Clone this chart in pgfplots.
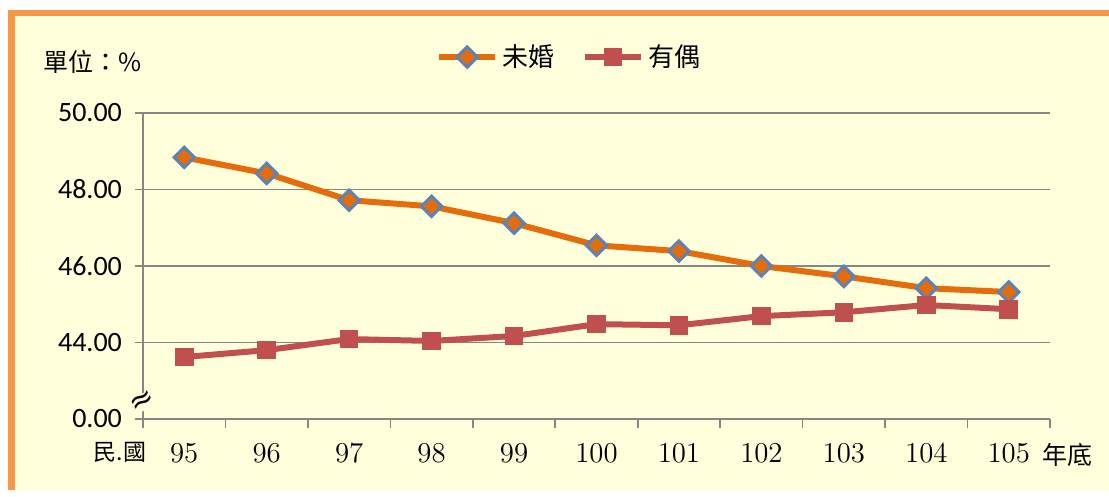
\documentclass[border=0pt]{standalone}
\usepackage{fontspec}
\setmainfont{Liberation Serif}
\newfontfamily\cjk{Noto Sans CJK TC}
\newfontfamily\calib{Carlito}
\newfontfamily\dejavu{DejaVu Sans}
\usepackage{pgfplots}
\pgfplotsset{compat=1.18}
\definecolor{cream}{HTML}{FFFFDC}
\definecolor{borderor}{HTML}{F79646}
\definecolor{ax}{HTML}{868686}
\definecolor{unm}{HTML}{E46C0A}
\definecolor{dia}{HTML}{5B83B5}
\definecolor{mar}{HTML}{C0504D}
\begin{document}
\begin{tikzpicture}[x=1pt,y=1pt]
\useasboundingbox (0pt,0pt) rectangle (554.5pt,248.5pt);
\fill[white] (0pt,0pt) rectangle (554.5pt,248.5pt);
\fill[cream] (4pt,3.5pt) rectangle (554.5pt,243.5pt);
\fill[borderor] (4pt,3.5pt) rectangle (7.5pt,243.5pt);
\fill[borderor] (4pt,240.5pt) rectangle (554.5pt,243.5pt);
\begin{axis}[
  at={(71.5pt,39pt)}, anchor=south west, scale only axis,
  width=453.5pt, height=153pt,
  xmin=94.5, xmax=105.5, ymin=42, ymax=50,
  clip=false,
  axis x line*=bottom, axis y line*=left,
  axis line style={ax, line width=0.8pt},
  xtick={95,96,97,98,99,100,101,102,103,104,105},
  major x tick style={draw=none},
  minor xtick={94.5,95.5,96.5,97.5,98.5,99.5,100.5,101.5,102.5,103.5,104.5,105.5},
  minor x tick style={ax, line width=0.8pt},
  minor tick length=4.5pt,
  major tick length=4pt,
  tick align=outside,
  ytick={42,44,46,48,50},
  yticklabels={0.00,44.00,46.00,48.00,50.00},
  ytick style={ax, line width=0.8pt},
  ymajorgrids, grid style={ax, line width=0.8pt},
  yticklabel style={font=\calib\fontsize{14}{15}\selectfont, xshift=-3pt},
  xticklabel style={font=\fontsize{13.5}{14}\selectfont, yshift=-5pt},
  legend style={at={(0.471,1.183)}, anchor=center, draw=none, fill=none,
    legend columns=2, font=\cjk\fontsize{13}{14}\selectfont,
    /tikz/every even column/.append style={column sep=12pt}},
  legend image code/.code={\draw[mark repeat=2,mark phase=2,#1] plot coordinates {(0pt,0pt)(14pt,0pt)(28pt,0pt)};},
]
\addplot[unm, line width=3pt, mark=square*, mark size=3.6pt,
  mark options={fill=unm, draw=dia, line width=1.5pt, rotate=45}] coordinates {
(95,48.84) (96,48.42) (97,47.72) (98,47.56) (99,47.12) (100,46.54)
(101,46.39) (102,46.00) (103,45.73) (104,45.42) (105,45.32)};
\addlegendentry{未婚}
\addplot[mar, line width=3pt, mark=square*, mark size=4.4pt,
  mark options={fill=mar, draw=mar, line width=0.5pt}] coordinates {
(95,43.62) (96,43.80) (97,44.09) (98,44.04) (99,44.17) (100,44.48)
(101,44.45) (102,44.69) (103,44.79) (104,44.98) (105,44.87)};
\addlegendentry{有偶}
\coordinate (brk) at (axis cs:94.5,42.44);
\end{axis}
\node[fill=cream, inner sep=0.2pt, rotate=30, font=\dejavu\fontsize{15}{15}\selectfont] at (brk) {≈};
\node[font=\cjk\fontsize{12.5}{13}\selectfont] at (46.5pt,217.5pt) {單位：\%};
\node[font=\cjk\fontsize{11.5}{12}\selectfont] at (60pt,22.5pt) {民.國};
\node[font=\cjk\fontsize{12.5}{13}\selectfont] at (533.5pt,21pt) {年底};
\end{tikzpicture}
\end{document}
